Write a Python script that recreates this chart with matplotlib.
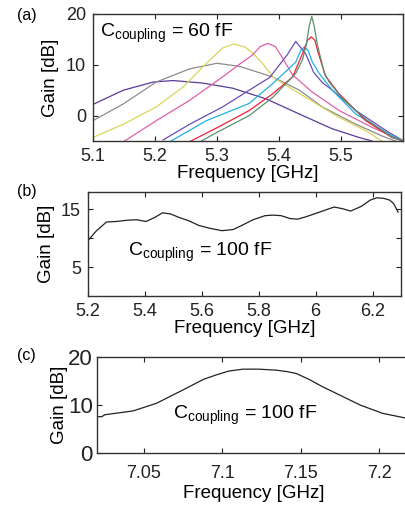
import matplotlib
matplotlib.use('Agg')
import matplotlib.pyplot as plt

plt.rcParams['font.family'] = ['Liberation Sans', 'DejaVu Sans']
plt.rcParams['mathtext.default'] = 'regular'

# ---- panel (a): C_coupling = 60 fF, several pump settings ----
f1 = [5.10, 5.149, 5.197, 5.229, 5.277, 5.325, 5.379, 5.433, 5.486, 5.529, 5.55]
g1 = [2.2, 5.0, 6.6, 6.9, 6.4, 5.4, 3.3, 0.3, -2.6, -4.3, -5.0]

f2 = [5.10, 5.149, 5.202, 5.256, 5.30, 5.336, 5.39, 5.433, 5.47, 5.524, 5.566, 5.588]
g2 = [-1.0, 2.3, 6.6, 9.2, 10.3, 9.7, 7.6, 5.0, 1.7, -1.7, -4.0, -5.0]

f3 = [5.10, 5.149, 5.202, 5.245, 5.283, 5.309, 5.327, 5.345, 5.356, 5.372, 5.392,
      5.443, 5.496, 5.54, 5.566]
g3 = [-4.3, -1.7, 1.7, 5.6, 10.3, 13.3, 14.1, 13.5, 12.5, 10.5, 7.4,
      3.6, -0.3, -3.0, -5.0]

f4 = [5.151, 5.202, 5.256, 5.309, 5.335, 5.357, 5.37, 5.382, 5.394, 5.403, 5.422,
      5.454, 5.497, 5.55, 5.593]
g4 = [-5.0, -1.0, 3.0, 7.6, 10.0, 11.9, 13.6, 14.2, 13.6, 11.9, 8.0,
      4.6, 1.0, -2.3, -4.6]

f5 = [5.213, 5.256, 5.309, 5.352, 5.385, 5.413, 5.427, 5.443, 5.456, 5.47, 5.486,
      5.524, 5.577, 5.60]
g5 = [-4.8, -1.7, 1.7, 5.0, 7.5, 11.9, 14.6, 12.2, 8.5, 6.5, 5.0,
      1.0, -3.3, -4.9]

f6 = [5.226, 5.283, 5.352, 5.39, 5.427, 5.436, 5.441, 5.447, 5.454, 5.465, 5.486,
      5.524, 5.577, 5.60]
g6 = [-5.0, -1.0, 2.4, 6.3, 10.5, 13.0, 13.5, 12.8, 10.5, 8.3, 5.0,
      0.3, -3.6, -5.0]

f7 = [5.258, 5.30, 5.352, 5.39, 5.422, 5.439, 5.446, 5.452, 5.458, 5.463, 5.475,
      5.497, 5.54, 5.582, 5.60]
g7 = [-5.0, -2.4, 1.0, 4.3, 7.6, 12.5, 14.8, 15.5, 14.8, 12.5, 7.8,
      4.3, -1.0, -4.3, -5.0]

f8 = [5.275, 5.30, 5.352, 5.39, 5.427, 5.438, 5.444, 5.449, 5.453, 5.457, 5.462,
      5.473, 5.481, 5.502, 5.54, 5.582, 5.60]
g8 = [-5.0, -3.3, 0.0, 3.6, 8.3, 11.0, 13.9, 17.8, 19.5, 17.5, 13.9,
      8.5, 6.6, 3.4, -0.7, -4.2, -5.0]

curves_a = [(f1, g1), (f2, g2), (f3, g3), (f4, g4), (f5, g5), (f6, g6), (f7, g7), (f8, g8)]
colors_a = ['#5a3c98', '#8c8c8c', '#dcd45c', '#e060a8', '#6a4cb4', '#22b0e0', '#f0203c', '#5a9070']

# ---- panel (b): C_coupling = 100 fF, broadband ----
fb = [5.20, 5.23, 5.265, 5.30, 5.335, 5.37, 5.404, 5.435, 5.462, 5.49, 5.52, 5.555, 5.59, 5.63,
      5.671, 5.71, 5.74, 5.78, 5.822, 5.85, 5.879, 5.91, 5.937, 5.965, 5.995, 6.03, 6.065, 6.095,
      6.123, 6.16, 6.192, 6.215, 6.239, 6.26, 6.274, 6.29]
gb = [9.6, 11.3, 12.8, 12.9, 13.1, 13.2, 12.9, 13.6, 14.4, 14.2, 13.6, 13.0, 12.2, 11.7,
      11.3, 11.5, 12.2, 13.2, 13.9, 14.0, 13.9, 13.4, 13.3, 13.7, 14.2, 14.8, 15.4, 15.1,
      14.7, 15.5, 16.6, 17.0, 16.9, 16.6, 16.0, 14.5]

# ---- panel (c): C_coupling = 100 fF, narrow band ----
fc = [7.02, 7.023, 7.025, 7.043, 7.058, 7.075, 7.088, 7.096, 7.104, 7.113, 7.123, 7.134,
      7.141, 7.147, 7.155, 7.164, 7.171, 7.181, 7.188, 7.202, 7.217, 7.222]
gc = [7.5, 7.5, 7.9, 8.7, 10.3, 13.1, 15.3, 16.2, 17.0, 17.4, 17.4, 17.2,
      16.9, 16.5, 15.3, 13.7, 12.6, 11.0, 9.9, 8.2, 7.2, 7.0]

TICK = 13
LAB = 13.5
NOTE = 14


def style(ax):
  ax.tick_params(direction='in', top=True, right=True, length=3.5, width=0.8,
                 labelsize=TICK, colors='#222222', pad=5)
  for s in ax.spines.values():
    s.set_linewidth(1.0)
    s.set_color('#333333')


fig = plt.figure(figsize=(4.06, 5.05), dpi=100)

ax = fig.add_axes([0.229, 0.7208, 0.7635, 0.2515])
for (f, g), c in zip(curves_a, colors_a):
  ax.plot(f, g, color=c, linewidth=0.9)
ax.set_xlim(5.1, 5.6)
ax.set_ylim(-5, 20)
ax.set_xticks([5.1, 5.2, 5.3, 5.4, 5.5, 5.6])
ax.set_xticklabels(['5.1', '5.2', '5.3', '5.4', '5.5', ''])
ax.set_yticks([0, 10, 20])
ax.set_xlabel('Frequency [GHz]', fontsize=LAB, labelpad=0)
ax.set_ylabel('Gain [dB]', fontsize=LAB, labelpad=5)
ax.text(0.022, 0.85, r'C$_{coupling}$ = 60 fF', transform=ax.transAxes,
        fontsize=NOTE, va='center', ha='left')
style(ax)

ax = fig.add_axes([0.2167, 0.4139, 0.771, 0.2059])
ax.plot(fb, gb, color='#222222', linewidth=0.9)
ax.set_xlim(5.2, 6.3)
ax.set_ylim(0, 18)
ax.set_xticks([5.2, 5.4, 5.6, 5.8, 6.0, 6.2])
ax.set_xticklabels(['5.2', '5.4', '5.6', '5.8', '6', '6.2'])
ax.set_yticks([5, 10, 15])
ax.set_yticklabels(['5', '', '15'])
ax.set_xlabel('Frequency [GHz]', fontsize=LAB, labelpad=0)
ax.set_ylabel('Gain [dB]', fontsize=LAB, labelpad=4)
ax.text(0.128, 0.42, r'C$_{coupling}$ = 100 fF', transform=ax.transAxes,
        fontsize=NOTE, va='center', ha='left')
style(ax)

ax = fig.add_axes([0.2389, 0.1036, 0.7727, 0.1901])
ax.plot(fc, gc, color='#222222', linewidth=0.9)
ax.set_xlim(7.02, 7.22)
ax.set_ylim(0, 20)
ax.set_xticks([7.05, 7.1, 7.15, 7.2])
ax.set_xticklabels(['7.05', '7.1', '7.15', '7.2'])
ax.set_yticks([0, 10, 20])
ax.set_xlabel('Frequency [GHz]', fontsize=LAB, labelpad=2)
ax.set_ylabel('Gain [dB]', fontsize=LAB, labelpad=0)
ax.text(0.242, 0.39, r'C$_{coupling}$ = 100 fF', transform=ax.transAxes,
        fontsize=NOTE, va='center', ha='left')
style(ax)
ax.tick_params(axis='y', labelsize=16, pad=3)
ax.tick_params(axis='x', pad=9)
ax.spines['right'].set_visible(False)

fig.text(0.042, 0.970, '(a)', fontsize=11.5, ha='left', va='center')
fig.text(0.042, 0.620, '(b)', fontsize=11.5, ha='left', va='center')
fig.text(0.042, 0.297, '(c)', fontsize=11.5, ha='left', va='center')

fig.savefig('out.png', dpi=100)
